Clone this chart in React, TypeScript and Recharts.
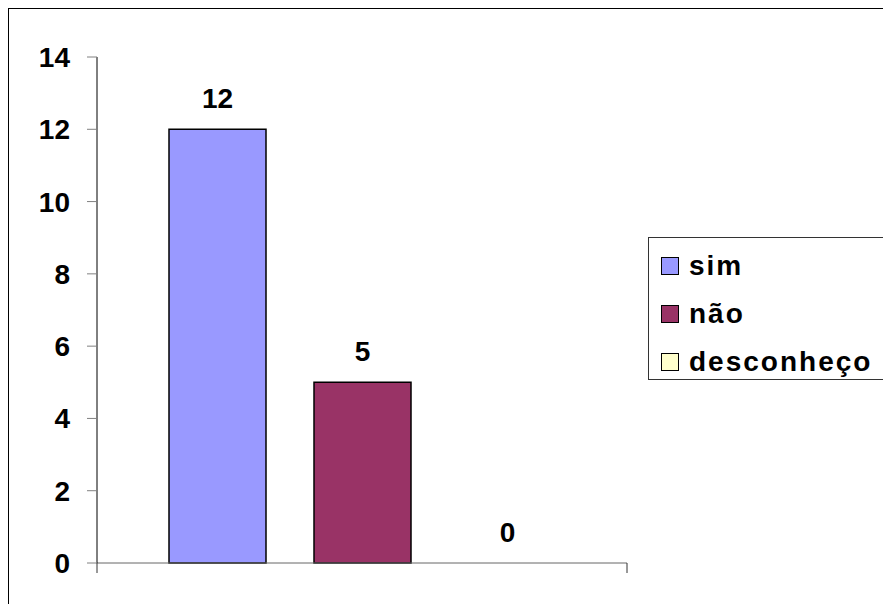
import { BarChart, Bar, XAxis, YAxis, LabelList, Legend, Cell } from 'recharts'

const categories = ['']
const sim = [12]
const nao = [5]
const desconheco = [0]
const seriesNames = ['sim', 'não', 'desconheço']
const seriesKeys = ['sim', 'nao', 'desconheco']
const COLORS = ['#9999FF', '#993366', '#FFFFCC']
const yTicks = [0, 2, 4, 6, 8, 10, 12, 14]

const data = categories.map((name, i) => ({
  name,
  sim: sim[i],
  nao: nao[i],
  desconheco: desconheco[i],
}))

const FONT = '"Liberation Sans", Arial, sans-serif'

// category ticks sit on the band edges, like the spreadsheet chart
function EdgeTicks(props: any) {
  const { x, y, payload } = props
  const half = payload?.offset ?? 0
  return (
    <g>
      <line x1={x - half} y1={y} x2={x - half} y2={y + 10} stroke="#333" />
      <line x1={x + half} y1={y} x2={x + half} y2={y + 10} stroke="#333" />
    </g>
  )
}

function LegendBox() {
  return (
    <div
      style={{
        width: 240,
        height: 143,
        boxSizing: 'border-box',
        border: '1px solid #333',
        background: '#fff',
        position: 'relative',
        fontFamily: FONT,
      }}
    >
      {seriesNames.map((n, i) => (
        <div
          key={n}
          style={{
            position: 'absolute',
            left: 12,
            top: 4 + i * 48,
            height: 48,
            display: 'flex',
            alignItems: 'center',
          }}
        >
          <span
            style={{
              width: 16,
              height: 16,
              border: '1.5px solid #000',
              background: COLORS[i],
              display: 'inline-block',
              marginRight: 10,
            }}
          />
          <span style={{ fontSize: 28, fontWeight: 'bold', letterSpacing: 2, color: '#000', whiteSpace: 'nowrap' }}>{n}</span>
        </div>
      ))}
    </div>
  )
}

export default function App() {
  return (
    <div style={{ position: 'fixed', left: 0, top: 0, width: 883, height: 604, overflow: 'hidden', background: '#fff' }}>
      <div
        style={{
          position: 'absolute',
          left: 8,
          top: 8,
          width: 900,
          height: 620,
          borderLeft: '1px solid #000',
          borderTop: '1px solid #000',
        }}
      />
      <div style={{ position: 'absolute', left: 0, top: 0 }}>
        <BarChart
          width={883}
          height={604}
          data={data}
          margin={{ top: 57, right: 256, bottom: 31, left: 0 }}
          barSize={97}
          barGap={48}
        >
          <XAxis
            dataKey="name"
            height={10}
            tickSize={0}
            tickMargin={0}
            interval={0}
            tickLine={false}
            tick={<EdgeTicks />}
            axisLine={{ stroke: '#666' }}
          />
          <YAxis
            width={97}
            domain={[0, 14]}
            ticks={yTicks}
            interval={0}
            tickSize={10}
            tickMargin={17}
            axisLine={{ stroke: '#000' }}
            tickLine={{ stroke: '#808080' }}
            tick={{ fontSize: 28, fontWeight: 'bold', fill: '#000', fontFamily: FONT }}
          />
          <Legend
            layout="vertical"
            align="center"
            verticalAlign="middle"
            wrapperStyle={{ left: 648, top: 237, width: 240 }}
            content={() => <LegendBox />}
          />
          {seriesKeys.map((k, i) => (
            <Bar
              key={k}
              dataKey={k}
              name={seriesNames[i]}
              fill={COLORS[i]}
              stroke="#000"
              strokeWidth={1.5}
              minPointSize={0.01}
              isAnimationActive={false}
            >
              {data.map((row: any, j) => (
                <Cell key={j} stroke={row[k] === 0 ? 'none' : '#000'} />
              ))}
              <LabelList
                dataKey={k}
                position="top"
                offset={21}
                fill="#000"
                fontSize={28}
                fontWeight="bold"
                fontFamily={FONT}
              />
            </Bar>
          ))}
        </BarChart>
      </div>
    </div>
  )
}
